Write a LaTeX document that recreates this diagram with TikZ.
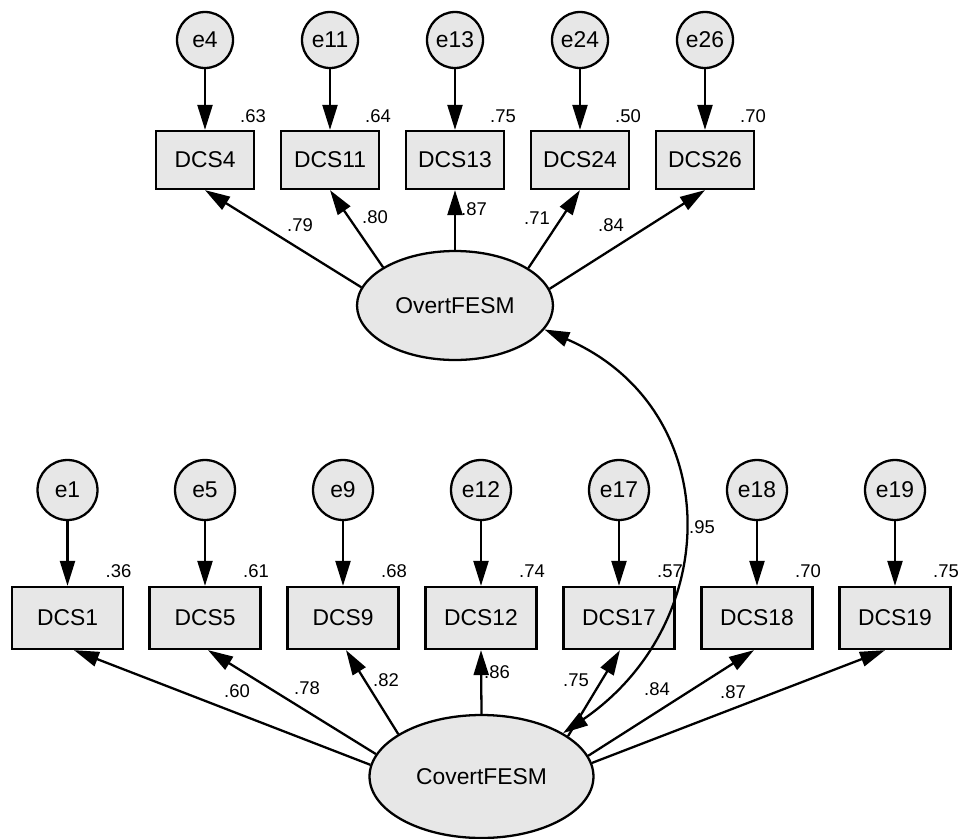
\documentclass[tikz,border=0pt]{standalone}
\usepackage{fontspec}
\setmainfont{Liberation Sans}
\usetikzlibrary{arrows.meta,shapes.geometric}

\definecolor{nodefill}{RGB}{231,231,231}
\tikzset{
  err/.style={circle, draw, fill=nodefill, line width=1.3pt, minimum size=1.12cm, inner sep=0pt,
    font=\fontsize{13}{15}\selectfont},
  errlow/.style={err, minimum size=1.2cm},
  obs/.style={rectangle, draw, fill=nodefill, line width=1.3pt, minimum width=1.96cm, minimum height=1.16cm,
    inner sep=0pt, font=\fontsize{13}{15}\selectfont},
  obslow/.style={obs, minimum width=2.22cm, minimum height=1.24cm},
  lat/.style={ellipse, draw, fill=nodefill, line width=1.3pt, inner sep=0pt,
    font=\fontsize{13}{15}\selectfont},
  lbl/.style={inner sep=0pt, font=\fontsize{10.5}{12}\selectfont},
  path/.style={line width=1.3pt, -{Triangle[length=0.5cm, width=0.3cm]}},
  covpath/.style={line width=1.3pt, {Triangle[length=0.5cm, width=0.3cm]}-{Triangle[length=0.5cm, width=0.3cm]}}
}

\begin{document}
\begin{tikzpicture}[x=0.02cm, y=-0.02cm]
\useasboundingbox (0,0) rectangle (961,839);

% latent factors
\node[lat, minimum width=3.92cm, minimum height=2.18cm] (ovt) at (455,305.5) {OvertFESM};
\node[lat, minimum width=4.48cm, minimum height=2.46cm] (cov) at (481.5,776.5) {CovertFESM};

% overt indicators
\foreach \n/\x/\r in {4/205/.63, 11/330/.64, 13/455/.75, 24/580/.50, 26/705/.70}{
  \node[err] (e\n) at (\x,40) {e\n};
  \node[obs] (dcs\n) at (\x,160) {DCS\n};
  \node[lbl] (r\n) at (\x+48,116) {\r};
  \draw[path] (e\n) -- (dcs\n);
}
\foreach \n/\a/\lx/\ly/\v in {4/169.3/300/225/.79, 11/152.8/375/217/.80, 13/90/474/209/.87,
    24/27.2/537/218/.71, 26/10.7/611/225/.84}{
  \draw[path] (ovt.\a) -- (dcs\n.south);
  \node[lbl] (l\n) at (\lx,\ly) {\v};
}

% covert indicators
\foreach \n/\x/\r in {1/67.5/.36, 5/205/.61, 9/343/.68, 12/481/.74, 17/619/.57, 18/757/.70, 19/895/.75}{
  \node[errlow] (e\n) at (\x,490) {e\n};
  \node[obslow] (dcs\n) at (\x,618) {DCS\n};
  \node[lbl] (r\n) at (\x+51,571) {\r};
  \draw[path] (e\n) -- (dcs\n);
}
\foreach \n/\a/\s/\lx/\ly/\v in {1/174/6.5/237/691/.60, 5/168.6/3/307/688/.78, 9/153.6/3/386/680/.82,
    12/90/0/497/672/.86, 17/25/1/576/680/.75, 18/11.4/-3/657/689/.84, 19/7/-10/733/692/.87}{
  \draw[path] (cov.\a) -- ([xshift=\s*0.02cm]dcs\n.south);
  \node[lbl] (l\n) at (\lx,\ly) {\v};
}

% factor correlation
\draw[covpath] (cov.28) .. controls (725,622) and (725,408) .. (ovt.-15);
\node[lbl] (lcor) at (702,527) {.95};
\end{tikzpicture}
\end{document}
